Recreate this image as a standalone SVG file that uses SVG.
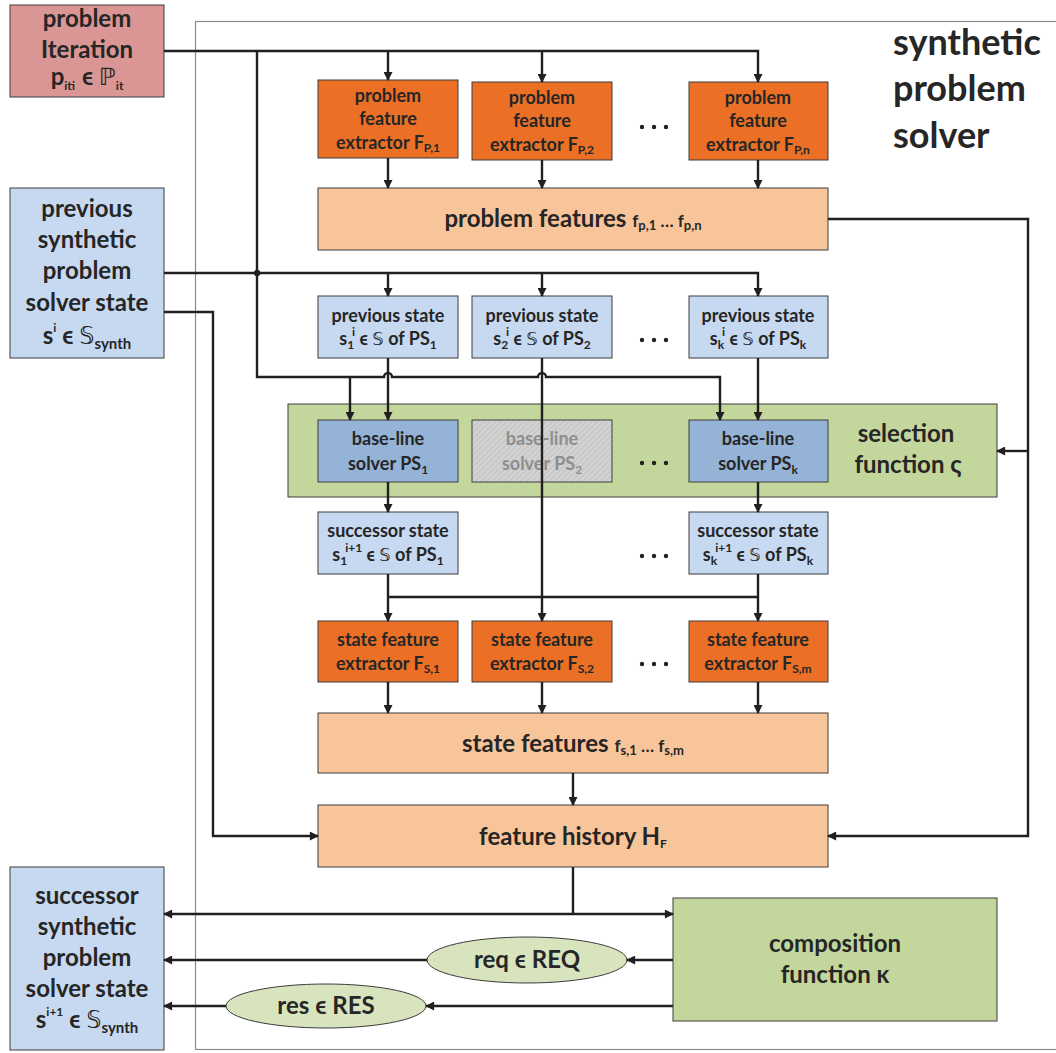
<svg xmlns="http://www.w3.org/2000/svg" width="1056" height="1053" viewBox="0 0 1056 1053">
  <defs>
    <marker id="ah" viewBox="0 0 10 10" refX="9" refY="5" markerWidth="10" markerHeight="9" markerUnits="userSpaceOnUse" orient="auto">
      <path d="M0,0 L10,5 L0,10 z" fill="#231f20"/>
    </marker>
    <pattern id="hatch" width="4" height="4" patternUnits="userSpaceOnUse" patternTransform="rotate(45)">
      <rect width="4" height="4" fill="#d2d2d2"/>
      <line x1="0" y1="0" x2="0" y2="4" stroke="#bdbdbd" stroke-width="1.5"/>
    </pattern>
    <style>
      text { font-family: Lato, "DejaVu Sans", sans-serif; font-weight: bold; fill: #262626; text-anchor: middle; }
      .box { stroke: #3c3c3c; stroke-width: 1; }
      .iter { fill: #d99694; }
      .blue { fill: #c6d9f1; }
      .solver { fill: #95b3d7; }
      .orange { fill: #eb7026; }
      .peach { fill: #f8c59a; }
      .green { fill: #c3d69b; }
      .pill { fill: #d7e4bd; }
      .big { font-size: 24px; }
      .mid { font-size: 18px; }
      .title { font-size: 36px; text-anchor: start; }
      .sm { font-size: 12px; }
      .smf { font-size: 13px; }
      .smb { font-size: 15px; }
      .fb { font-size: 17px; }
      .dbl { font-weight: normal; }
      .muted { fill: #8e8e8e; }
      .wire { fill: none; stroke: #231f20; stroke-width: 2.4; }
      .arrow { marker-end: url(#ah); }
      .dot { fill: #231f20; }
    </style>
  </defs>

  <!-- outer frame of the synthetic problem solver -->
  <rect x="195.5" y="21.5" width="870" height="1028" fill="none" stroke="#8a8a8a" stroke-width="1.2"/>
  <g id="title">
    <text class="title" x="893" y="55">synthetic</text>
    <text class="title" x="893" y="101">problem</text>
    <text class="title" x="893" y="148">solver</text>
  </g>

  <!-- inputs -->
  <g id="problem-iteration">
    <rect class="box iter" x="10" y="5" width="154" height="92"/>
    <text class="big" x="87" y="27">problem</text>
    <text class="big" x="87" y="58">Iteration</text>
    <text class="big" x="87" y="85">p<tspan class="sm" dy="5">it</tspan><tspan class="sm" dx="1" dy="-17">i</tspan><tspan dy="12"> ϵ </tspan><tspan class="dbl">ℙ</tspan><tspan class="sm" dy="5">it</tspan></text>
  </g>
  <g id="previous-synthetic-state">
    <rect class="box blue" x="10" y="188" width="154" height="170"/>
    <text class="big" x="87" y="217">previous</text>
    <text class="big" x="87" y="248">synthetic</text>
    <text class="big" x="87" y="279">problem</text>
    <text class="big" x="87" y="311">solver state</text>
    <text class="big" x="87" y="344">s<tspan class="sm" dy="-12">i</tspan><tspan dy="12"> ϵ </tspan><tspan class="dbl">𝕊</tspan><tspan class="smb" dy="5">synth</tspan></text>
  </g>

  <!-- problem feature extraction -->
  <g id="problem-extractor-1">
    <rect class="box orange" x="318" y="80" width="140" height="78"/>
    <text class="mid" x="388" y="102">problem</text>
    <text class="mid" x="388" y="125">feature</text>
    <text class="mid" x="388" y="149">extractor F<tspan class="sm" dy="3">P,1</tspan></text>
  </g>
  <g id="problem-extractor-2">
    <rect class="box orange" x="472" y="82" width="140" height="78"/>
    <text class="mid" x="542" y="104">problem</text>
    <text class="mid" x="542" y="127">feature</text>
    <text class="mid" x="542" y="151">extractor F<tspan class="sm" dy="3">P,2</tspan></text>
  </g>
  <g id="problem-extractor-n">
    <rect class="box orange" x="689" y="82" width="139" height="78"/>
    <text class="mid" x="758" y="104">problem</text>
    <text class="mid" x="758" y="127">feature</text>
    <text class="mid" x="758" y="151">extractor F<tspan class="sm" dy="3">P,n</tspan></text>
  </g>
  <g id="problem-extractor-dots">
    <circle class="dot" cx="642" cy="127" r="2.2"/><circle class="dot" cx="654" cy="127" r="2.2"/><circle class="dot" cx="666" cy="127" r="2.2"/>
  </g>
  <g id="problem-features">
    <rect class="box peach" x="318" y="188" width="510" height="62"/>
    <text class="big" x="573" y="227">problem features  <tspan class="fb">f</tspan><tspan class="smf" dy="3">p,1</tspan><tspan class="fb" dy="-3"> … f</tspan><tspan class="smf" dy="3">p,n</tspan></text>
  </g>

  <!-- previous states of the base-line solvers -->
  <g id="previous-state-1">
    <rect class="box blue" x="318" y="296" width="140" height="62"/>
    <text class="mid" x="388" y="322">previous state</text>
    <text class="mid" x="388" y="345">s<tspan class="sm" dy="4">1</tspan><tspan class="sm" dx="-2" dy="-13">i</tspan><tspan dy="9"> ϵ </tspan><tspan class="dbl">𝕊</tspan><tspan> of PS</tspan><tspan class="sm" dy="4">1</tspan></text>
  </g>
  <g id="previous-state-2">
    <rect class="box blue" x="472" y="296" width="140" height="62"/>
    <text class="mid" x="542" y="322">previous state</text>
    <text class="mid" x="542" y="345">s<tspan class="sm" dy="4">2</tspan><tspan class="sm" dx="-2" dy="-13">i</tspan><tspan dy="9"> ϵ </tspan><tspan class="dbl">𝕊</tspan><tspan> of PS</tspan><tspan class="sm" dy="4">2</tspan></text>
  </g>
  <g id="previous-state-k">
    <rect class="box blue" x="689" y="296" width="139" height="62"/>
    <text class="mid" x="758" y="322">previous state</text>
    <text class="mid" x="758" y="345">s<tspan class="sm" dy="4">k</tspan><tspan class="sm" dx="-2" dy="-13">i</tspan><tspan dy="9"> ϵ </tspan><tspan class="dbl">𝕊</tspan><tspan> of PS</tspan><tspan class="sm" dy="4">k</tspan></text>
  </g>
  <g id="previous-state-dots">
    <circle class="dot" cx="642" cy="340" r="2.2"/><circle class="dot" cx="654" cy="340" r="2.2"/><circle class="dot" cx="666" cy="340" r="2.2"/>
  </g>

  <!-- selection function with the base-line solvers -->
  <g id="selection-function">
    <rect class="box green" x="288" y="404" width="709" height="93"/>
    <text class="big" x="906" y="442">selection</text>
    <text class="big" x="908" y="473">function ς</text>
  </g>
  <g id="solver-1">
    <rect class="box solver" x="318" y="420" width="140" height="62"/>
    <text class="mid" x="388" y="445">base-line</text>
    <text class="mid" x="388" y="470">solver PS<tspan class="sm" dy="4">1</tspan></text>
  </g>
  <g id="solver-2">
    <rect class="box" x="472" y="420" width="140" height="62" fill="url(#hatch)" stroke="#9a9a9a"/>
    <text class="mid muted" x="542" y="445">base-line</text>
    <text class="mid muted" x="542" y="470">solver PS<tspan class="sm" dy="4">2</tspan></text>
  </g>
  <g id="solver-k">
    <rect class="box solver" x="689" y="420" width="139" height="62"/>
    <text class="mid" x="758" y="445">base-line</text>
    <text class="mid" x="758" y="470">solver PS<tspan class="sm" dy="4">k</tspan></text>
  </g>
  <g id="solver-dots">
    <circle class="dot" cx="642" cy="463" r="2.2"/><circle class="dot" cx="654" cy="463" r="2.2"/><circle class="dot" cx="666" cy="463" r="2.2"/>
  </g>

  <!-- successor states -->
  <g id="successor-state-1">
    <rect class="box blue" x="318" y="512" width="140" height="62"/>
    <text class="mid" x="388" y="537">successor state</text>
    <text class="mid" x="388" y="561">s<tspan class="sm" dy="4">1</tspan><tspan class="sm" dx="-2" dy="-13">i+1</tspan><tspan dy="9"> ϵ </tspan><tspan class="dbl">𝕊</tspan><tspan> of PS</tspan><tspan class="sm" dy="4">1</tspan></text>
  </g>
  <g id="successor-state-k">
    <rect class="box blue" x="689" y="512" width="139" height="62"/>
    <text class="mid" x="758" y="537">successor state</text>
    <text class="mid" x="758" y="561">s<tspan class="sm" dy="4">k</tspan><tspan class="sm" dx="-2" dy="-13">i+1</tspan><tspan dy="9"> ϵ </tspan><tspan class="dbl">𝕊</tspan><tspan> of PS</tspan><tspan class="sm" dy="4">k</tspan></text>
  </g>
  <g id="successor-state-dots">
    <circle class="dot" cx="642" cy="556" r="2.2"/><circle class="dot" cx="654" cy="556" r="2.2"/><circle class="dot" cx="666" cy="556" r="2.2"/>
  </g>

  <!-- state feature extraction -->
  <g id="state-extractor-1">
    <rect class="box orange" x="318" y="621" width="140" height="61"/>
    <text class="mid" x="388" y="646">state feature</text>
    <text class="mid" x="388" y="670">extractor F<tspan class="sm" dy="3">S,1</tspan></text>
  </g>
  <g id="state-extractor-2">
    <rect class="box orange" x="472" y="621" width="140" height="61"/>
    <text class="mid" x="542" y="646">state feature</text>
    <text class="mid" x="542" y="670">extractor F<tspan class="sm" dy="3">S,2</tspan></text>
  </g>
  <g id="state-extractor-m">
    <rect class="box orange" x="689" y="621" width="139" height="61"/>
    <text class="mid" x="758" y="646">state feature</text>
    <text class="mid" x="758" y="670">extractor F<tspan class="sm" dy="3">S,m</tspan></text>
  </g>
  <g id="state-extractor-dots">
    <circle class="dot" cx="642" cy="664" r="2.2"/><circle class="dot" cx="654" cy="664" r="2.2"/><circle class="dot" cx="666" cy="664" r="2.2"/>
  </g>
  <g id="state-features">
    <rect class="box peach" x="318" y="713" width="510" height="60"/>
    <text class="big" x="573" y="752">state features <tspan class="fb">f</tspan><tspan class="smf" dy="3">s,1</tspan><tspan class="fb" dy="-3"> … f</tspan><tspan class="smf" dy="3">s,m</tspan></text>
  </g>
  <g id="feature-history">
    <rect class="box peach" x="318" y="805" width="510" height="62"/>
    <text class="big" x="573" y="845">feature history H<tspan class="sm" dy="3">F</tspan></text>
  </g>

  <!-- composition and outputs -->
  <g id="composition-function">
    <rect class="box green" x="673" y="898" width="324" height="123"/>
    <text class="big" x="835" y="952">composition</text>
    <text class="big" x="835" y="983">function κ</text>
  </g>
  <g id="request">
    <ellipse class="box pill" cx="527" cy="960" rx="100" ry="23"/>
    <text class="big" x="527" y="968">req ϵ REQ</text>
  </g>
  <g id="result">
    <ellipse class="box pill" cx="326" cy="1006" rx="100" ry="22"/>
    <text class="big" x="326" y="1014">res ϵ RES</text>
  </g>
  <g id="successor-synthetic-state">
    <rect class="box blue" x="10" y="867" width="154" height="183"/>
    <text class="big" x="87" y="904">successor</text>
    <text class="big" x="87" y="935">synthetic</text>
    <text class="big" x="87" y="966">problem</text>
    <text class="big" x="87" y="997">solver state</text>
    <text class="big" x="87" y="1028">s<tspan class="sm" dy="-12">i+1</tspan><tspan dy="12"> ϵ </tspan><tspan class="dbl">𝕊</tspan><tspan class="smb" dy="5">synth</tspan></text>
  </g>

  <!-- connectors -->
  <g id="connectors">
    <!-- problem iteration bus -->
    <path class="wire arrow" d="M164,51 H758 V82"/>
    <path class="wire arrow" d="M388,51 V80"/>
    <path class="wire arrow" d="M542,51 V82"/>
    <path class="wire arrow" d="M257,51 V377 H384 a4,4 0 0 1 8,0 H538 a4,4 0 0 1 8,0 H720 V420"/>
    <path class="wire arrow" d="M350,377 V420"/>
    <!-- problem features -->
    <path class="wire arrow" d="M388,158 V188"/>
    <path class="wire arrow" d="M542,160 V188"/>
    <path class="wire arrow" d="M758,160 V188"/>
    <path class="wire arrow" d="M828,219 H1028 V836 H828"/>
    <path class="wire arrow" d="M1028,451 H997"/>
    <!-- previous synthetic state -->
    <path class="wire arrow" d="M164,273 H758 V296"/>
    <path class="wire arrow" d="M388,273 V296"/>
    <path class="wire arrow" d="M542,273 V296"/>
    <circle class="dot" cx="257" cy="273" r="3.2"/>
    <path class="wire arrow" d="M164,312 H213 V836 H318"/>
    <!-- previous states to solvers -->
    <path class="wire arrow" d="M388,358 V420"/>
    <path class="wire arrow" d="M542,358 V621"/>
    <path class="wire arrow" d="M758,358 V420"/>
    <!-- solvers to successor states -->
    <path class="wire arrow" d="M388,482 V512"/>
    <path class="wire arrow" d="M758,482 V512"/>
    <!-- successor states to state extractors -->
    <path class="wire arrow" d="M388,574 V621"/>
    <path class="wire arrow" d="M758,574 V621"/>
    <path class="wire" d="M388,597 H758"/>
    <!-- state features -->
    <path class="wire arrow" d="M388,682 V713"/>
    <path class="wire arrow" d="M542,682 V713"/>
    <path class="wire arrow" d="M758,682 V713"/>
    <path class="wire arrow" d="M573,773 V805"/>
    <!-- feature history outputs -->
    <path class="wire" d="M573,867 V914"/>
    <path class="wire arrow" d="M573,914 H164"/>
    <path class="wire arrow" d="M573,914 H673"/>
    <!-- composition outputs -->
    <path class="wire arrow" d="M673,960 H627"/>
    <path class="wire arrow" d="M427,960 H164"/>
    <path class="wire arrow" d="M673,1006 H426"/>
    <path class="wire arrow" d="M226,1006 H164"/>
  </g>
</svg>
